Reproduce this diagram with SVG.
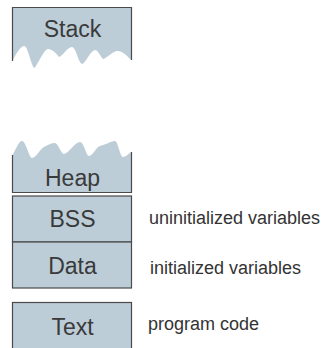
<svg xmlns="http://www.w3.org/2000/svg" width="326" height="348" viewBox="0 0 326 348">
<style>
.fill{fill:#bccdd7;stroke:none}
.edge{fill:none;stroke:#4a4a4a;stroke-width:1.2}
.box{fill:#bccdd7;stroke:#4a4a4a;stroke-width:1.2}
.lbl{font-family:"Liberation Sans",Arial,sans-serif;font-size:23px;fill:#3a3a3a;text-anchor:middle}
.side{font-family:"Liberation Sans",Arial,sans-serif;font-size:18px;fill:#333}
</style>
<rect width="326" height="348" fill="#fff"/>
<g id="stack">
<path class="fill" d="M12.5,7.5 H131.5 V60 C127,56 122,50 117,51 C112,52 107,58 103,59 C100,56 98,50 95,50 C90,51 86,63 82,64 C78,62 76,47 72,47 C67,47 63,56 59,57 C56,53 52,49 48,49 C43,50 37,67 34,68 C30,62 28,46 24,46 C20,46 15,56 12.5,61 Z"/>
<path class="edge" d="M12.5,61 V7.5 H131.5 V60"/>
<text class="lbl" x="72.5" y="36.5">Stack</text>
</g>
<g id="heap">
<path class="fill" d="M12.5,155 C16,149 19,141 22,141 C26,141 29,158 32,158 C36,158 40,149 44,147 C48,145 51,143 55,143 C58,143 61,154 64,154 C69,153 75,142 80,142 C84,142 86,156 89,156 C93,156 96,147 100,146 C105,145 111,141 115,141 C118,141 120,157 123,157 C126,157 129,153 131.5,152 V192.5 H12.5 Z"/>
<path class="edge" d="M12.5,155 V192.5 H131.5 V152"/>
<text class="lbl" x="72.5" y="186">Heap</text>
</g>
<g id="bss">
<rect class="box" x="12.5" y="196" width="119" height="46"/>
<text class="lbl" x="72.5" y="227">BSS</text>
</g>
<g id="data">
<rect class="box" x="12.5" y="242" width="119" height="46"/>
<text class="lbl" x="72.5" y="274">Data</text>
</g>
<g id="text">
<rect class="box" x="12.5" y="302.5" width="119" height="50"/>
<text class="lbl" x="72.5" y="335">Text</text>
</g>
<g id="labels">
<text class="side" x="149" y="224">uninitialized variables</text>
<text class="side" x="150" y="274">initialized variables</text>
<text class="side" x="148" y="330">program code</text>
</g>
</svg>
